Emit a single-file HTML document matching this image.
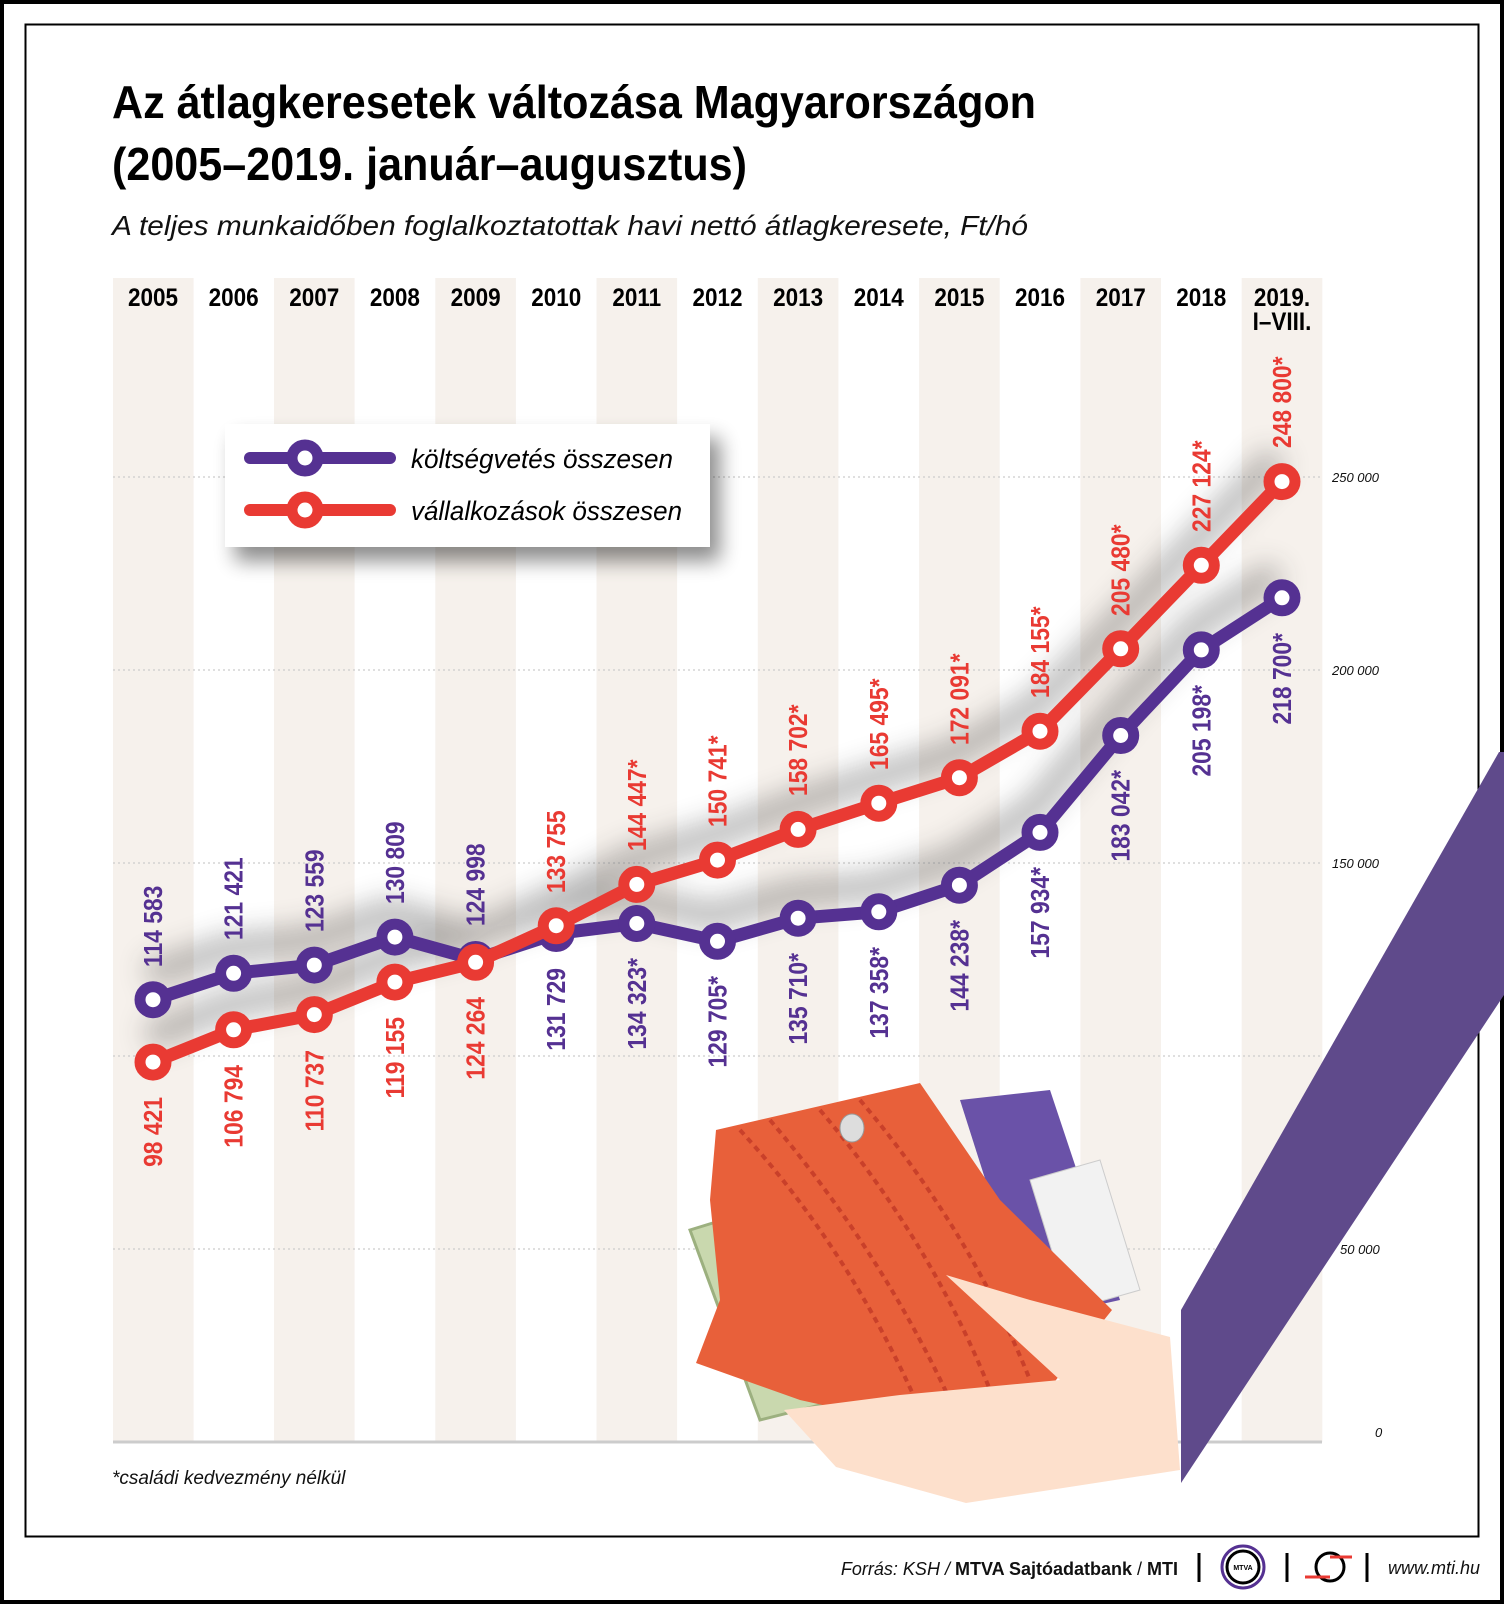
<!DOCTYPE html>
<html><head><meta charset="utf-8"><style>
html,body{margin:0;padding:0;background:#fff}
svg{display:block}
.t{font-family:"Liberation Sans Narrow","Liberation Sans",sans-serif;font-weight:bold}
.lb{font-family:"Liberation Sans Narrow","Liberation Sans",sans-serif;font-weight:bold;font-size:26px}
.p{fill:#553192}.r{fill:#e93a33}
.ax{font-family:"Liberation Sans",sans-serif;font-style:italic;font-size:13px;fill:#111}
</style></head><body>
<svg width="1504" height="1604" viewBox="0 0 1504 1604" xmlns="http://www.w3.org/2000/svg">
<defs>
<filter id="bl" x="-20%" y="-50%" width="140%" height="200%"><feGaussianBlur stdDeviation="14"/></filter>
<filter id="sh" x="-20%" y="-30%" width="140%" height="170%"><feGaussianBlur stdDeviation="10"/></filter>
</defs>
<rect x="2" y="2" width="1500" height="1600" fill="#fff" stroke="#000" stroke-width="4"/>
<rect x="25.5" y="24.5" width="1453" height="1512" fill="none" stroke="#000" stroke-width="2"/>
<text x="112" y="118" class="t" font-size="46" fill="#000" textLength="924" lengthAdjust="spacingAndGlyphs">Az átlagkeresetek változása Magyarországon</text>
<text x="112" y="180" class="t" font-size="46" fill="#000" textLength="635" lengthAdjust="spacingAndGlyphs">(2005–2019. január–augusztus)</text>
<text x="112" y="235" font-family="Liberation Sans,sans-serif" font-style="italic" font-size="28" fill="#111" textLength="916" lengthAdjust="spacingAndGlyphs">A teljes munkaidőben foglalkoztatottak havi nettó átlagkeresete, Ft/hó</text>
<g fill="#f6f1ec">
<rect x="113" y="278" width="80.6" height="1164"/><rect x="274" y="278" width="80.6" height="1164"/>
<rect x="435.3" y="278" width="80.6" height="1164"/><rect x="596.5" y="278" width="80.6" height="1164"/>
<rect x="757.8" y="278" width="80.6" height="1164"/><rect x="919.1" y="278" width="80.6" height="1164"/>
<rect x="1080.4" y="278" width="80.6" height="1164"/><rect x="1241.7" y="278" width="80.6" height="1164"/>
</g>
<g stroke="#ccc" stroke-width="1.2" stroke-dasharray="2,3">
<line x1="113" y1="477" x2="1322" y2="477"/><line x1="113" y1="670" x2="1322" y2="670"/>
<line x1="113" y1="863" x2="1322" y2="863"/><line x1="113" y1="1056" x2="1322" y2="1056"/>
<line x1="113" y1="1249" x2="1322" y2="1249"/>
</g>
<line x1="113" y1="1442" x2="1322" y2="1442" stroke="#ccc" stroke-width="3"/>
<g class="t" font-size="25" fill="#000" text-anchor="middle">
<text transform="translate(153,306) scale(0.9,1)">2005</text><text transform="translate(233.6,306) scale(0.9,1)">2006</text><text transform="translate(314.3,306) scale(0.9,1)">2007</text>
<text transform="translate(394.9,306) scale(0.9,1)">2008</text><text transform="translate(475.6,306) scale(0.9,1)">2009</text><text transform="translate(556.2,306) scale(0.9,1)">2010</text>
<text transform="translate(636.8,306) scale(0.9,1)">2011</text><text transform="translate(717.5,306) scale(0.9,1)">2012</text><text transform="translate(798.1,306) scale(0.9,1)">2013</text>
<text transform="translate(878.8,306) scale(0.9,1)">2014</text><text transform="translate(959.4,306) scale(0.9,1)">2015</text><text transform="translate(1040,306) scale(0.9,1)">2016</text>
<text transform="translate(1120.7,306) scale(0.9,1)">2017</text><text transform="translate(1201.3,306) scale(0.9,1)">2018</text><text transform="translate(1282,306) scale(0.9,1)">2019.</text>
<text transform="translate(1282,330) scale(0.9,1)">I–VIII.</text>
</g>
<g class="ax">
<text x="1332" y="482">250 000</text><text x="1332" y="675">200 000</text><text x="1332" y="868">150 000</text>
<text x="1332" y="1061">100 000</text><text x="1340" y="1254">50 000</text><text x="1375" y="1437">0</text>
</g>
<g opacity="0.35" filter="url(#bl)" transform="translate(-5,-25)" fill="none" stroke="#333" stroke-width="26">
<polyline points="153,999.7 233.6,973.3 314.3,965.1 394.9,937.1 475.6,959.5 556.2,933.5 636.8,923.5 717.5,941.3 798.1,918.2 878.8,911.8 959.4,885.2 1040,832.4 1120.7,735.5 1201.3,649.9 1282,597.8"/>
<polyline points="153,1062.1 233.6,1029.8 314.3,1014.6 394.9,982.1 475.6,962.3 556.2,925.7 636.8,884.4 717.5,860.1 798.1,829.4 878.8,803.2 959.4,777.7 1040,731.2 1120.7,648.8 1201.3,565.3 1282,481.6"/>
</g>
<polyline fill="none" stroke="#553192" stroke-width="13" stroke-linejoin="round" points="153,999.7 233.6,973.3 314.3,965.1 394.9,937.1 475.6,959.5 556.2,933.5 636.8,923.5 717.5,941.3 798.1,918.2 878.8,911.8 959.4,885.2 1040,832.4 1120.7,735.5 1201.3,649.9 1282,597.8"/>
<g fill="#fff" stroke="#553192" stroke-width="11">
<circle cx="153" cy="999.7" r="13"/><circle cx="233.6" cy="973.3" r="13"/><circle cx="314.3" cy="965.1" r="13"/><circle cx="394.9" cy="937.1" r="13"/><circle cx="475.6" cy="959.5" r="13"/><circle cx="556.2" cy="933.5" r="13"/><circle cx="636.8" cy="923.5" r="13"/><circle cx="717.5" cy="941.3" r="13"/><circle cx="798.1" cy="918.2" r="13"/><circle cx="878.8" cy="911.8" r="13"/><circle cx="959.4" cy="885.2" r="13"/><circle cx="1040" cy="832.4" r="13"/><circle cx="1120.7" cy="735.5" r="13"/><circle cx="1201.3" cy="649.9" r="13"/><circle cx="1282" cy="597.8" r="13"/>
</g>
<polyline fill="none" stroke="#e93a33" stroke-width="13" stroke-linejoin="round" points="153,1062.1 233.6,1029.8 314.3,1014.6 394.9,982.1 475.6,962.3 556.2,925.7 636.8,884.4 717.5,860.1 798.1,829.4 878.8,803.2 959.4,777.7 1040,731.2 1120.7,648.8 1201.3,565.3 1282,481.6"/>
<g fill="#fff" stroke="#e93a33" stroke-width="11">
<circle cx="153" cy="1062.1" r="13"/><circle cx="233.6" cy="1029.8" r="13"/><circle cx="314.3" cy="1014.6" r="13"/><circle cx="394.9" cy="982.1" r="13"/><circle cx="475.6" cy="962.3" r="13"/><circle cx="556.2" cy="925.7" r="13"/><circle cx="636.8" cy="884.4" r="13"/><circle cx="717.5" cy="860.1" r="13"/><circle cx="798.1" cy="829.4" r="13"/><circle cx="878.8" cy="803.2" r="13"/><circle cx="959.4" cy="777.7" r="13"/><circle cx="1040" cy="731.2" r="13"/><circle cx="1120.7" cy="648.8" r="13"/><circle cx="1201.3" cy="565.3" r="13"/><circle cx="1282" cy="481.6" r="13"/>
</g>
<g class="lb p">
<text transform="translate(162,967) rotate(-90) scale(0.88,1)">114 583</text>
<text transform="translate(242.6,940) rotate(-90) scale(0.88,1)">121 421</text>
<text transform="translate(323.3,932) rotate(-90) scale(0.88,1)">123 559</text>
<text transform="translate(403.9,904) rotate(-90) scale(0.88,1)">130 809</text>
<text transform="translate(484.6,926) rotate(-90) scale(0.88,1)">124 998</text>
</g>
<g class="lb r">
<text transform="translate(565.2,893) rotate(-90) scale(0.88,1)">133 755</text>
<text transform="translate(645.8,851) rotate(-90) scale(0.88,1)">144 447*</text>
<text transform="translate(726.5,827) rotate(-90) scale(0.88,1)">150 741*</text>
<text transform="translate(807.1,796) rotate(-90) scale(0.88,1)">158 702*</text>
<text transform="translate(887.8,770) rotate(-90) scale(0.88,1)">165 495*</text>
<text transform="translate(968.4,745) rotate(-90) scale(0.88,1)">172 091*</text>
<text transform="translate(1049,698) rotate(-90) scale(0.88,1)">184 155*</text>
<text transform="translate(1129.7,616) rotate(-90) scale(0.88,1)">205 480*</text>
<text transform="translate(1210.3,532) rotate(-90) scale(0.88,1)">227 124*</text>
<text transform="translate(1291,448) rotate(-90) scale(0.88,1)">248 800*</text>
</g>
<g class="lb r" text-anchor="end">
<text transform="translate(162,1097) rotate(-90) scale(0.88,1)">98 421</text>
<text transform="translate(242.6,1065) rotate(-90) scale(0.88,1)">106 794</text>
<text transform="translate(323.3,1050) rotate(-90) scale(0.88,1)">110 737</text>
<text transform="translate(403.9,1017) rotate(-90) scale(0.88,1)">119 155</text>
<text transform="translate(484.6,997) rotate(-90) scale(0.88,1)">124 264</text>
</g>
<g class="lb p" text-anchor="end">
<text transform="translate(565.2,968) rotate(-90) scale(0.88,1)">131 729</text>
<text transform="translate(645.8,958) rotate(-90) scale(0.88,1)">134 323*</text>
<text transform="translate(726.5,976) rotate(-90) scale(0.88,1)">129 705*</text>
<text transform="translate(807.1,953) rotate(-90) scale(0.88,1)">135 710*</text>
<text transform="translate(887.8,947) rotate(-90) scale(0.88,1)">137 358*</text>
<text transform="translate(968.4,920) rotate(-90) scale(0.88,1)">144 238*</text>
<text transform="translate(1049,867) rotate(-90) scale(0.88,1)">157 934*</text>
<text transform="translate(1129.7,770) rotate(-90) scale(0.88,1)">183 042*</text>
<text transform="translate(1210.3,685) rotate(-90) scale(0.88,1)">205 198*</text>
<text transform="translate(1291,633) rotate(-90) scale(0.88,1)">218 700*</text>
</g>
<rect x="235" y="438" width="485" height="123" fill="#000" opacity="0.45" filter="url(#sh)"/>
<rect x="225" y="424" width="485" height="123" fill="#fff"/>
<g stroke-linecap="round" stroke-width="12">
<line x1="250" y1="458" x2="390" y2="458" stroke="#553192"/>
<line x1="250" y1="510" x2="390" y2="510" stroke="#e93a33"/>
</g>
<circle cx="305" cy="458" r="13" fill="#fff" stroke="#553192" stroke-width="11"/>
<circle cx="305" cy="510" r="13" fill="#fff" stroke="#e93a33" stroke-width="11"/>
<g font-family="Liberation Sans,sans-serif" font-style="italic" font-size="27" fill="#000">
<text x="411" y="468" textLength="262" lengthAdjust="spacingAndGlyphs">költségvetés összesen</text>
<text x="411" y="520" textLength="271" lengthAdjust="spacingAndGlyphs">vállalkozások összesen</text>
</g>
<polygon points="960,1100 1050,1090 1120,1300 1030,1320" fill="#6a52a8"/>
<polygon points="1030,1180 1100,1160 1140,1290 1070,1310" fill="#f2f2f2" stroke="#ccc"/>
<polygon points="690,1230 820,1190 880,1390 760,1420" fill="#c9d8ae" stroke="#9cb07f" stroke-width="3"/>
<polygon points="716,1130 920,1083 1000,1200 1112,1310 1040,1400 904,1423 800,1400 696,1363 720,1300 710,1200" fill="#e8603a"/>
<g stroke="#c9402a" stroke-width="4" fill="none" stroke-dasharray="6,5">
<path d="M740,1130 Q850,1250 920,1410"/><path d="M770,1120 Q880,1250 950,1400"/><path d="M820,1110 Q930,1240 990,1390"/><path d="M860,1100 Q970,1230 1030,1380"/>
</g>
<ellipse cx="852" cy="1128" rx="12" ry="14" fill="#ddd" stroke="#999"/>
<polygon points="946,1275 1030,1300 1170,1337 1180,1470 966,1503 836,1467 784,1410 900,1395 1060,1380" fill="#fde0cc"/>
<polygon points="1181,1310 1499,752 1504,752 1504,995 1181,1483" fill="#5f4a8b"/>
<text x="112" y="1484" font-family="Liberation Sans,sans-serif" font-style="italic" font-size="19" fill="#111">*családi kedvezmény nélkül</text>
<text x="1178" y="1575" text-anchor="end" font-family="Liberation Sans,sans-serif" font-size="18" fill="#111"><tspan font-style="italic">Forrás: KSH / </tspan><tspan font-weight="bold">MTVA Sajtóadatbank</tspan> / <tspan font-weight="bold">MTI</tspan></text>
<line x1="1199" y1="1553" x2="1199" y2="1582" stroke="#000" stroke-width="3"/>
<circle cx="1243" cy="1567" r="21" fill="none" stroke="#553192" stroke-width="3"/>
<circle cx="1243" cy="1567" r="16" fill="none" stroke="#000" stroke-width="3"/>
<text x="1243" y="1570" text-anchor="middle" font-family="Liberation Sans,sans-serif" font-size="7" font-weight="bold">MTVA</text>
<line x1="1287" y1="1553" x2="1287" y2="1582" stroke="#000" stroke-width="3"/>
<circle cx="1330" cy="1567" r="14" fill="none" stroke="#000" stroke-width="3"/>
<line x1="1305" y1="1577" x2="1330" y2="1577" stroke="#e93a33" stroke-width="3"/>
<line x1="1330" y1="1557" x2="1352" y2="1557" stroke="#e93a33" stroke-width="3"/>
<line x1="1367" y1="1553" x2="1367" y2="1582" stroke="#000" stroke-width="3"/>
<text x="1388" y="1574" font-family="Liberation Sans,sans-serif" font-style="italic" font-size="18" fill="#111">www.mti.hu</text>
</svg>
</body></html>
